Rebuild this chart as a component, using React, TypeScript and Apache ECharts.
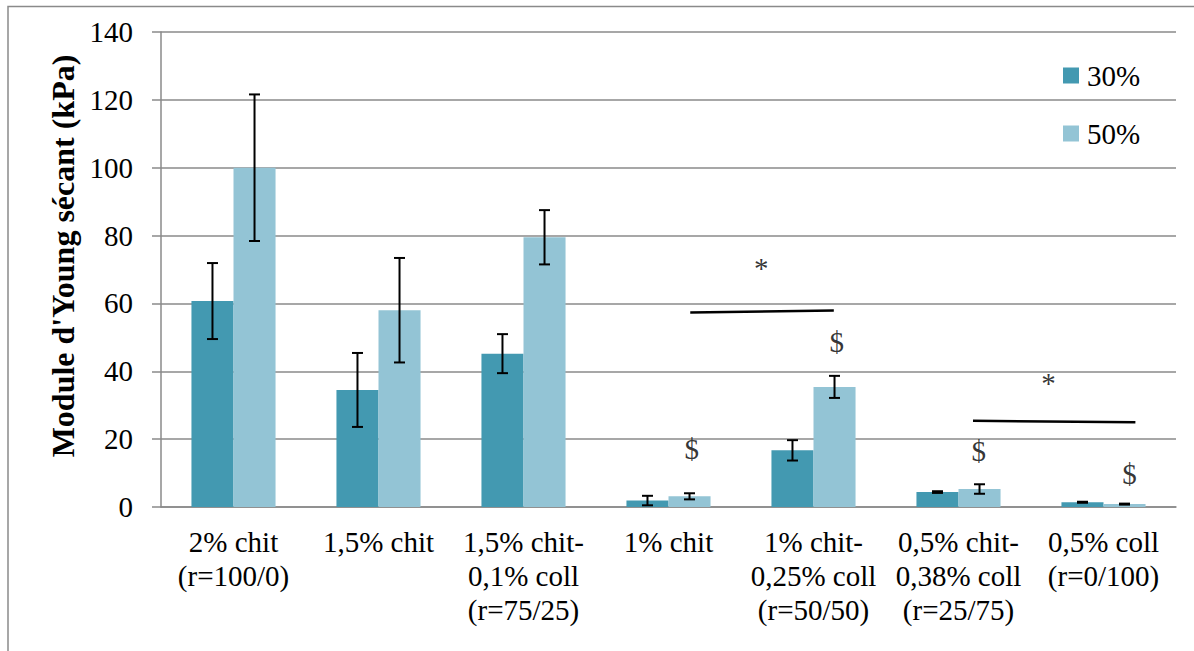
import React, { useEffect, useRef } from "react";
import * as echarts from "echarts";

const categories = [
  "2% chit\n(r=100/0)",
  "1,5% chit",
  "1,5% chit-\n0,1% coll\n(r=75/25)",
  "1% chit",
  "1% chit-\n0,25% coll\n(r=50/50)",
  "0,5% chit-\n0,38% coll\n(r=25/75)",
  "0,5% coll\n(r=0/100)",
];
const seriesNames = ["30%", "50%"];
const values30 = [60.7, 34.5, 45.2, 1.9, 16.7, 4.4, 1.4];
const values50 = [100, 58.0, 79.5, 3.15, 35.4, 5.3, 0.85];
const err30 = [11.2, 10.9, 5.75, 1.4, 3.0, 0.25, 0.15];
const err50 = [21.6, 15.4, 8.0, 0.9, 3.25, 1.4, 0.15];
const yTicks = { min: 0, max: 140, interval: 20 };

// annotations in (category-position, value) coordinates
const annotationTexts = [
  { name: "*", value: [4.14, 70.4] },
  { name: "*", value: [6.12, 36.5] },
  { name: "$", value: [3.66, 17.1] },
  { name: "$", value: [4.66, 48.6] },
  { name: "$", value: [5.64, 16.5] },
  { name: "$", value: [6.68, 9.7] },
];
const sigLine1 = [
  [3.65, 57.3],
  [4.64, 57.9],
];
const sigLine2 = [
  [5.6, 25.4],
  [6.72, 25.0],
];

const FONT = "Liberation Serif";
const DARK = "#4399B1";
const LIGHT = "#93C4D5";
const GRID = "#8a8a8a";

export default function App() {
  const ref = useRef<HTMLDivElement>(null);
  useEffect(() => {
    if (!ref.current) return;
    const chart = echarts.init(ref.current, null, { renderer: "svg" });
    const catGap = 0.42;
    const errRender = (sIdx: number) => (params: any, api: any) => {
      const cat = api.value(0);
      const lo = api.value(1);
      const hi = api.value(2);
      const band = api.size([1, 0])[0];
      const half = (band * (1 - catGap)) / 4;
      const cx = api.coord([cat, 0])[0] + (sIdx === 0 ? -half : half);
      const yLo = api.coord([cat, lo])[1];
      const yHi = api.coord([cat, hi])[1];
      const cap = 5.5;
      const st = { stroke: "#000", lineWidth: 2 };
      return {
        type: "group",
        children: [
          { type: "line", shape: { x1: cx, y1: yLo, x2: cx, y2: yHi }, style: st },
          { type: "line", shape: { x1: cx - cap, y1: yHi, x2: cx + cap, y2: yHi }, style: st },
          { type: "line", shape: { x1: cx - cap, y1: yLo, x2: cx + cap, y2: yLo }, style: st },
        ],
      };
    };
    const errData = (vals: number[], errs: number[]) =>
      vals.map((v, i) => [i, Math.max(0, v - errs[i]), v + errs[i]]);

    chart.setOption({
      animation: false,
      textStyle: { fontFamily: FONT },
      grid: { left: 161, right: 18, top: 32, bottom: 144, containLabel: false },
      legend: {
        data: seriesNames,
        orient: "vertical",
        left: 1063,
        top: 61,
        padding: 0,
        itemWidth: 16,
        itemHeight: 16,
        itemGap: 29,
        icon: "rect",
        textStyle: { fontFamily: FONT, fontSize: 29, color: "#000", lineHeight: 29, padding: [0, 0, 0, 3] },
      },
      xAxis: [
        {
          type: "category",
          data: categories,
          axisLine: { lineStyle: { color: GRID, width: 1.5 } },
          axisTick: { length: 8, lineStyle: { color: GRID, width: 1.5 } },
          axisLabel: {
            interval: 0,
            margin: 18,
            fontFamily: FONT,
            fontSize: 29,
            lineHeight: 34,
            color: "#000",
          },
        },
        { type: "value", min: 0, max: 7, show: false },
      ],
      yAxis: {
        type: "value",
        min: yTicks.min,
        max: yTicks.max,
        interval: yTicks.interval,
        axisLine: { show: true, lineStyle: { color: GRID, width: 1.5 } },
        axisTick: { show: true, length: 9, lineStyle: { color: GRID, width: 1.5 } },
        splitLine: { lineStyle: { color: GRID, width: 1.5 } },
        axisLabel: { margin: 28, fontFamily: FONT, fontSize: 29, color: "#000" },
      },
      graphic: [
        {
          type: "rect",
          shape: { x: 8, y: 6.5, width: 1250, height: 720 },
          style: { fill: "none", stroke: GRID, lineWidth: 1.5 },
          silent: true,
        },
        {
          type: "text",
          x: 63,
          y: 256,
          rotation: Math.PI / 2,
          style: {
            text: "Module d'Young sécant (kPa)",
            fontFamily: FONT,
            fontWeight: "bold",
            fontSize: 32,
            fill: "#000",
            align: "center",
            verticalAlign: "middle",
          },
        },
      ],
      series: [
        {
          name: seriesNames[0],
          type: "bar",
          data: values30,
          barGap: "0%",
          barCategoryGap: "42%",
          itemStyle: { color: DARK },
        },
        {
          name: seriesNames[1],
          type: "bar",
          data: values50,
          barGap: "0%",
          barCategoryGap: "42%",
          itemStyle: { color: LIGHT },
        },
        {
          type: "custom",
          renderItem: errRender(0),
          data: errData(values30, err30),
          encode: { x: 0, y: [1, 2] },
          z: 10,
        },
        {
          type: "custom",
          renderItem: errRender(1),
          data: errData(values50, err50),
          encode: { x: 0, y: [1, 2] },
          z: 10,
        },
        {
          type: "line",
          xAxisIndex: 1,
          data: sigLine1,
          symbol: "none",
          lineStyle: { color: "#000", width: 2.5 },
          z: 10,
        },
        {
          type: "line",
          xAxisIndex: 1,
          data: sigLine2,
          symbol: "none",
          lineStyle: { color: "#000", width: 2.5 },
          z: 10,
        },
        {
          type: "scatter",
          xAxisIndex: 1,
          data: annotationTexts,
          symbolSize: 1,
          itemStyle: { color: "rgba(0,0,0,0)" },
          label: {
            show: true,
            position: "inside",
            formatter: "{b}",
            fontFamily: FONT,
            fontSize: 29,
            color: "#000",
          },
          z: 10,
        },
      ],
    });
    return () => chart.dispose();
  }, []);
  return (
    <div
      ref={ref}
      style={{ position: "absolute", left: 0, top: 0, width: 1194, height: 651, background: "#fff" }}
    />
  );
}
